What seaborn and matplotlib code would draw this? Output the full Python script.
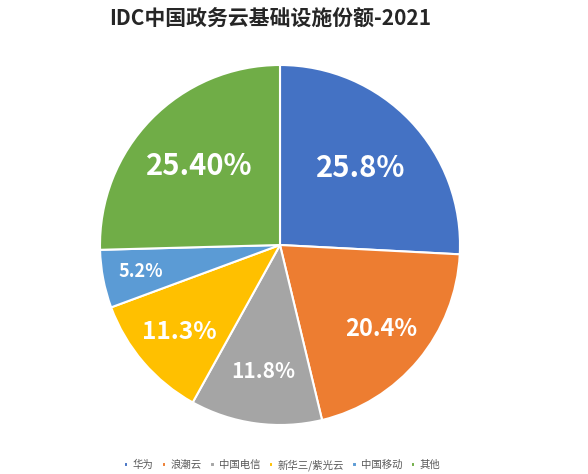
import numpy as np
import seaborn as sns
import matplotlib.pyplot as plt

# data
vendors = ["华为", "浪潮云", "中国电信", "新华三/紫光云", "中国移动", "其他"]
shares = [25.8, 20.4, 11.8, 11.3, 5.2, 25.4]
share_labels = ["25.8%", "20.4%", "11.8%", "11.3%", "5.2%", "25.40%"]

colors = sns.color_palette(["#4472C4", "#ED7D31", "#A5A5A5", "#FFC000", "#5B9BD5", "#70AD47"])
label_dist = [0.62, 0.73, 0.71, 0.74, 0.79, 0.63]
label_size = [21, 17, 15, 17.5, 13, 21]

sns.set_style("white")
plt.rcParams["font.family"] = ["Noto Sans CJK SC", "DejaVu Sans"]

fig = plt.figure(figsize=(5.88, 4.74), dpi=100)
ax = fig.add_axes([100 / 588, 49 / 474, 360 / 588, 360 / 474])

wedges, _ = ax.pie(shares, colors=colors, startangle=90, counterclock=False,
                   wedgeprops=dict(edgecolor="white", linewidth=1.5))
ax.set_aspect("equal")
ax.set_xlim(-1, 1)
ax.set_ylim(-1, 1)

for w, txt, d, fs in zip(wedges, share_labels, label_dist, label_size):
  mid = np.deg2rad((w.theta1 + w.theta2) / 2)
  ax.text(d * np.cos(mid), d * np.sin(mid), txt, ha="center", va="center",
          color="white", fontsize=fs, fontweight="bold")

fig.text(270 / 588, 1 - 18 / 474, "IDC中国政务云基础设施份额-2021", ha="center", va="center",
         fontsize=15, fontweight="bold")

# legend sits right at the bottom edge
fig.legend(wedges, vendors, loc="center", bbox_to_anchor=(282 / 588, 1 - 465 / 474), ncol=6,
           frameon=False, fontsize=7.5, handlelength=0.45, handleheight=0.45, columnspacing=0.8,
           handletextpad=0.4, labelcolor="#595959")

plt.savefig("out.png", dpi=100)
